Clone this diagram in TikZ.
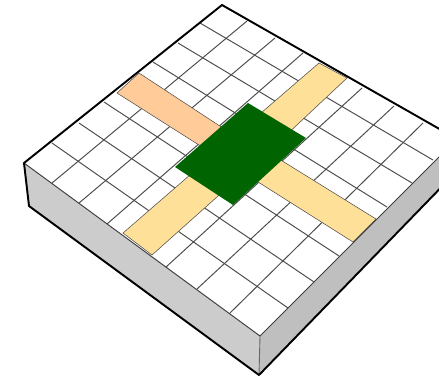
\documentclass[tikz,border=0pt]{standalone}
\usepackage{xcolor}
\usepackage{tikz}
\definecolor{sideleft}{HTML}{CCCCCC}
\definecolor{sideright}{HTML}{BFBFBF}
\definecolor{bandpeach}{HTML}{FFCC99}
\definecolor{bandyellow}{HTML}{FFE099}
\definecolor{chipgreen}{HTML}{006400}
\tikzset{
  gridline/.style={draw=black!70,line width=0.55pt},
  band/.style={draw=black!70,line width=0.3pt},
  rim/.style={draw=black,line width=1.1pt,line join=round}
}
\begin{document}
\begin{tikzpicture}[x=0.02cm,y=-0.02cm]
  \useasboundingbox (0,0) rectangle (439,380);
  \clip (0,0) rectangle (439,380);
  % corners of the block
  \coordinate (top) at (222,5);
  \coordinate (left) at (24,163);
  \coordinate (front) at (260,336);
  \coordinate (right) at (457,139);
  \coordinate (leftlow) at (29,206);
  \coordinate (frontlow) at (259,375);
  \coordinate (rightlow) at (457,171);
  % faces
  \fill[white] (top)--(left)--(front)--(right)--cycle;
  \fill[sideleft] (left)--(front)--(frontlow)--(leftlow)--cycle;
  \fill[sideright] (front)--(right)--(rightlow)--(frontlow)--cycle;
  % grid
  \foreach \xa/\ya/\xb/\yb in {52/183/247/21,79/203/275/38,107/224/303/53,
      166/267/362/88,197/289/394/106,230/313/423/123,
      200/23/433/160,178/43/412/183,153/62/387/207,
      104/102/339/256,79/123/314/282,52/143/288/308}
    \draw[gridline] (\xa,\ya)--(\xb,\yb);
  % strips, their inner ends hidden under the chip
  \filldraw[band,fill=bandpeach] (139,73)--(117,93)--(210,152)--(232,134)--cycle;
  \filldraw[band,fill=bandyellow] (319,63)--(347,78)--(283,138)--(254,119)--cycle;
  \filldraw[band,fill=bandyellow] (123,233)--(152,255)--(227,188)--(198,168)--cycle;
  \filldraw[band,fill=bandyellow] (353,242)--(376,219)--(271,154)--(247,175)--cycle;
  \fill[chipgreen] (248,103)--(306,138)--(233,205)--(175,167)--cycle;
  % outline
  \draw[draw=black!75,line width=0.55pt] (left)--(front)--(right);
  \draw[draw=black!60,line width=0.5pt] (front)--(frontlow);
  \draw[rim] (right)--(top)--(left)--(leftlow)--(frontlow)--(rightlow);
\end{tikzpicture}
\end{document}
